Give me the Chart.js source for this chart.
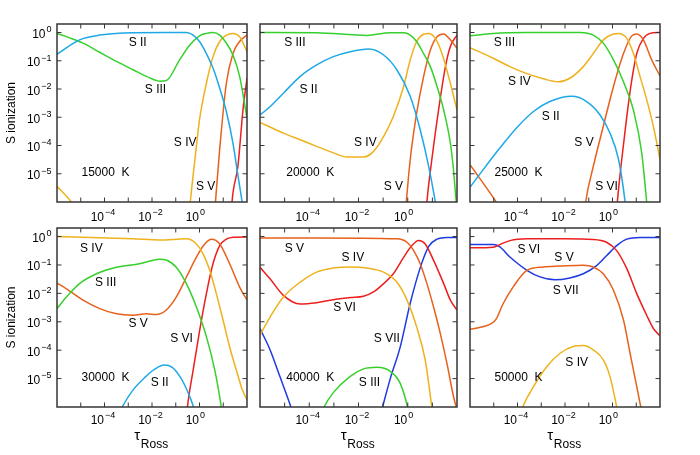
<!DOCTYPE html>
<html>
<head>
<meta charset="utf-8">
<script src="https://cdn.jsdelivr.net/npm/chart.js@4.4.0/dist/chart.umd.min.js"></script>
<style>
  body { margin: 0; background: #fff; width: 700px; height: 455px; position: relative; overflow: hidden; }
  canvas { position: absolute; }
</style>
</head>
<body>
<script>
// --- Data (tau_Ross, ionization fraction) ---
// 15000 K
const t15_II  = [1e-6, 8.9e-6, 6.3e-5, 1.6e-3, 4e-2, 0.28, 0.54, 1, 1.95, 3.7, 7.1, 13.5, 25.7, 40, 62, 89];
const v15_II  = [0.17, 0.55, 0.81, 0.99, 1.0, 1.0, 0.81, 0.48, 0.18, 0.055, 0.0107, 1.6e-3, 1.2e-4, 1.07e-5, 1e-6, 1e-7];
const t15_III = [1e-6, 3.2e-6, 1.26e-5, 6.3e-5, 3.2e-4, 1.6e-3, 5.8e-3, 2.1e-2, 4e-2, 0.145, 0.39, 1, 1.95, 3.7, 7.1, 13.5, 25.7, 49, 100];
const v15_III = [0.93, 0.66, 0.42, 0.2, 0.095, 0.048, 0.028, 0.019, 0.02, 0.107, 0.36, 0.76, 0.93, 1.0, 0.81, 0.42, 0.16, 0.028, 9.3e-4];
const t15_IV  = [1e-6, 4e-6, 7.6e-6, 1e-3, 0.33, 0.41, 0.74, 1, 1.95, 3.7, 7.1, 13.5, 25.7, 49, 100];
const v15_IV  = [3.6e-6, 1e-6, 4e-7, null, 1.3e-7, 1e-6, 9.3e-5, 8.1e-4, 0.016, 0.14, 0.48, 0.81, 0.93, 0.71, 0.21];
const t15_V   = [3.7, 4.7, 7.1, 13.5, 25.7, 49, 100];
const v15_V   = [8e-8, 1e-6, 7.6e-5, 0.016, 0.18, 0.48, 0.81];
const t15_VI  = [20, 23.4, 41.7, 67.6, 100];
const v15_VI  = [1e-7, 1e-6, 1.95e-5, 1.8e-3, 0.024];

// 20000 K
const t20_III = [1e-6, 2e-4, 2.2e-2, 0.195, 0.68, 1.26, 2.3, 4.4, 8.3, 15.5, 28.8, 53.7, 70.8, 93.3, 112];
const v20_III = [1.0, 0.98, 0.79, 0.98, 0.98, 0.81, 0.48, 0.18, 0.062, 0.0123, 1.8e-3, 1.23e-4, 1.6e-5, 1e-6, 2.5e-7];
const t20_II  = [1e-6, 2.6e-6, 8.9e-6, 4.3e-5, 2e-4, 9.5e-4, 4.6e-3, 2.6e-2, 0.105, 0.36, 1.26, 3.2, 7.1, 13.2, 17.8];
const v20_II  = [1.2e-3, 2.4e-3, 7.1e-3, 0.028, 0.071, 0.14, 0.21, 0.26, 0.16, 0.048, 5.5e-3, 3.6e-4, 1.8e-5, 1e-6, 2e-7];
const t20_IV  = [1e-6, 8.9e-6, 4.3e-5, 2e-4, 9.5e-4, 3.4e-3, 1.6e-2, 4.1e-2, 0.105, 0.26, 0.68, 1.26, 2.3, 4.4, 7.1, 13.2, 24.5, 53.7, 100];
const v20_IV  = [6.6e-4, 2.75e-4, 1.6e-4, 9.3e-5, 5.5e-5, 3.9e-5, 3.9e-5, 6.2e-5, 2.1e-4, 1.07e-3, 0.0123, 0.107, 0.48, 0.87, 0.93, 0.62, 0.18, 0.016, 1.8e-3];
const t20_V   = [0.63, 0.87, 1.26, 2.3, 4.4, 8.3, 15.5, 28.8, 53.7, 100];
const v20_V   = [5e-8, 1e-6, 3.2e-5, 1.4e-3, 0.0275, 0.24, 0.71, 0.89, 0.55, 0.275];
const t20_VI  = [4.8, 6.0, 9.5, 17.8, 33.9, 53.7, 100];
const v20_VI  = [6e-8, 1e-6, 3.2e-5, 1.8e-3, 0.062, 0.32, 0.81];

// 25000 K
const t25_III = [1e-6, 9.5e-6, 2.5e-4, 4.3e-2, 0.155, 0.41, 1.1, 2.9, 7.6, 17, 27.5, 35.5];
const v25_III = [0.76, 0.93, 1.0, 1.0, 0.81, 0.42, 0.107, 0.018, 1.8e-3, 5.5e-5, 1e-6, 1e-7];
const t25_IV  = [1e-6, 9.5e-6, 4.8e-5, 2.5e-4, 1.23e-3, 5.2e-3, 1.6e-2, 5.9e-2, 0.155, 0.41, 1.1, 1.8, 4, 7.6, 14.5, 27.5, 52.5, 100];
const v25_IV  = [0.29, 0.123, 0.062, 0.035, 0.023, 0.018, 0.024, 0.062, 0.18, 0.55, 0.89, 0.93, 0.62, 0.18, 0.0275, 4.2e-3, 4.8e-4, 3.2e-5];
const t25_II  = [1e-6, 3.6e-6, 1.8e-5, 9.1e-5, 4.7e-4, 2.3e-3, 1.9e-2, 8.1e-2, 0.295, 0.78, 1.8, 3.4, 4.5];
const v25_II  = [3.3e-6, 1.4e-5, 8.1e-5, 4.2e-4, 1.6e-3, 3.6e-3, 5.5e-3, 3.6e-3, 1.23e-3, 2.75e-4, 3.2e-5, 1e-6, 1e-7];
const t25_V   = [1e-6, 1.26e-5, 1.8e-5, 1e-3, 5e-2, 7.4e-2, 0.155, 0.41, 1.1, 2.9, 6.5, 10.5, 20, 44.7, 100];
const v25_V   = [2.1e-5, 1e-6, 6e-7, null, 5e-8, 1e-6, 1.8e-5, 4.8e-4, 0.0123, 0.18, 0.76, 0.89, 0.55, 0.107, 0.029];
const t25_VI  = [1.26, 1.6, 2.45, 4, 6.5, 10.5, 20, 38, 100];
const v25_VI  = [6e-8, 1e-6, 3.2e-5, 1.07e-3, 0.021, 0.18, 0.62, 0.93, 1.0];

// 30000 K
const t30_IV  = [1e-6, 1.6e-3, 2.1e-2, 0.28, 0.74, 1.41, 2.7, 5.1, 9.8, 18.6, 35.5, 63, 100];
const v30_IV  = [1.0, 0.83, 0.76, 0.83, 0.55, 0.245, 0.065, 9.8e-3, 1.15e-3, 1.3e-4, 2e-5, 4.1e-6, 1.8e-6];
const t30_III = [1e-6, 2.5e-6, 8.9e-6, 4.6e-5, 3.2e-4, 3e-3, 2.1e-2, 4e-2, 0.105, 0.28, 0.74, 1.95, 4.4, 8.3, 11.2];
const v30_III = [2.9e-3, 7.4e-3, 0.022, 0.049, 0.083, 0.11, 0.16, 0.15, 0.083, 0.022, 3.3e-3, 3e-4, 2e-5, 1e-6, 1.6e-7];
const t30_V   = [1e-6, 2.5e-6, 1.26e-5, 6.3e-5, 3.2e-4, 1.6e-3, 5.8e-3, 1.5e-2, 4e-2, 0.105, 0.28, 0.74, 1.66, 3.2, 7.1, 18.6, 49, 100];
const v30_V   = [0.023, 0.0145, 5.8e-3, 2.9e-3, 1.9e-3, 1.7e-3, 1.9e-3, 1.8e-3, 2.6e-3, 7.4e-3, 0.037, 0.19, 0.55, 0.81, 0.55, 0.11, 0.0166, 5.8e-3];
const t30_VI  = [0.224, 0.31, 0.54, 1.02, 1.95, 3.7, 7.1, 13.5, 25.7, 100];
const v30_VI  = [6e-8, 1e-6, 2e-5, 5.1e-4, 9.8e-3, 0.11, 0.48, 0.81, 0.95, 0.97];
const t30_II  = [3.2e-4, 5.5e-4, 1.6e-3, 5e-3, 1.26e-2, 3.2e-2, 7.1e-2, 0.158, 0.316, 0.56, 0.79];
const v30_II  = [4e-7, 1e-6, 4e-6, 1.1e-5, 2.1e-5, 3e-5, 2.5e-5, 1.1e-5, 3.5e-6, 1e-6, 3.2e-7];

// 40000 K
const t40_V   = [1e-6, 2e-4, 0.36, 0.93, 1.74, 3.2, 6, 11.2, 20.9, 38.9, 72.4, 100];
const v40_V   = [0.89, 0.89, 0.83, 0.63, 0.32, 0.11, 0.022, 3.3e-3, 3.9e-4, 3.5e-5, 2.3e-6, 8e-7];
const t40_VI  = [1e-6, 2.6e-6, 8.9e-6, 4.3e-5, 2e-4, 9.5e-4, 4.6e-3, 1.6e-2, 4.1e-2, 0.105, 0.26, 0.68, 1.48, 2.75, 5.1, 11.2, 28.8, 53.7, 100];
const v40_VI  = [0.083, 0.032, 8.5e-3, 4.2e-3, 4.7e-3, 6e-3, 7.1e-3, 7.9e-3, 0.0112, 0.022, 0.049, 0.186, 0.48, 0.72, 0.55, 0.145, 0.022, 5.8e-3, 2.6e-3];
const t40_IV  = [1e-6, 2.6e-6, 8.9e-6, 4.3e-5, 2e-4, 9.5e-4, 4.6e-3, 2.2e-2, 0.105, 0.36, 0.93, 2.3, 5.1, 9.5, 12.6];
const v40_IV  = [3.4e-4, 1.5e-3, 7.4e-3, 0.025, 0.056, 0.078, 0.085, 0.078, 0.056, 0.025, 5.8e-3, 6.6e-4, 4.6e-5, 1e-6, 1.6e-7];
const t40_VII = [1e-6, 2.6e-6, 6.5e-6, 1.8e-5, 2.5e-5, 1e-3, 6.3e-2, 9.5e-2, 0.195, 0.49, 1.26, 3.2, 7.1, 15.5, 38.9, 100];
const v40_VII = [5.8e-4, 1e-4, 1.15e-5, 1e-6, 4e-7, null, 2.5e-7, 1e-6, 1e-5, 1.26e-4, 4.5e-3, 0.079, 0.45, 0.81, 0.93, 0.93];
const t40_III = [2.5e-4, 4e-4, 9.5e-4, 4.6e-3, 1.6e-2, 5.6e-2, 0.195, 0.49, 0.98, 1.26];
const v40_III = [3.2e-7, 1e-6, 3.2e-6, 1.2e-5, 2.2e-5, 2.5e-5, 1.8e-5, 6.9e-6, 1e-6, 3.2e-7];

// 50000 K
const t50_VI  = [1e-6, 9.5e-6, 1.8e-5, 4.8e-5, 2.5e-4, 1e-2, 0.155, 0.56, 1.5, 4, 10.5, 27.5, 52.5, 100];
const v50_VI  = [0.4, 0.42, 0.52, 0.72, 0.83, 0.83, 0.79, 0.63, 0.32, 0.074, 9.8e-3, 1.7e-3, 5.8e-4, 3.2e-4];
const t50_VII = [1e-6, 9.5e-6, 1.8e-5, 4.8e-5, 2.5e-4, 8.9e-4, 3.8e-3, 1.6e-2, 5.9e-2, 0.214, 0.56, 1.5, 4, 14.5, 100];
const v50_VII = [0.52, 0.52, 0.43, 0.19, 0.065, 0.038, 0.03, 0.035, 0.049, 0.095, 0.21, 0.48, 0.81, 0.93, 0.93];
const t50_V   = [1e-6, 8.1e-6, 1.3e-5, 2.5e-5, 6.6e-5, 2.5e-4, 1.23e-3, 6.2e-3, 5.9e-2, 0.155, 0.41, 1.1, 2.9, 5.5, 10.5, 15.5, 22.4];
const v50_V   = [5.4e-4, 8.7e-4, 1.3e-3, 4.4e-3, 0.017, 0.065, 0.085, 0.091, 0.098, 0.085, 0.049, 0.0129, 1.15e-3, 7.8e-5, 5.2e-6, 1e-6, 2e-7];
const t50_IV  = [1.1e-4, 1.66e-4, 4.7e-4, 1.7e-3, 6.2e-3, 2.2e-2, 5.9e-2, 0.155, 0.41, 0.78, 1.5, 2];
const v50_IV  = [3.2e-7, 1e-6, 5.2e-6, 2.6e-5, 7.8e-5, 1.35e-4, 1.45e-4, 1.02e-4, 4.6e-5, 1.2e-5, 1e-6, 2.5e-7];

// Axis ticks
const xMinorTicks = [1e-5, 1e-4, 1e-3, 1e-2, 1e-1, 1, 10];
const xLabelTicks = [1e-4, 1e-2, 1];
const xLabelExps  = ['\u22124', '\u22122', '0'];
const yMinorTicks = [1e-5, 1e-4, 1e-3, 1e-2, 1e-1, 1];
const yLabelExps  = ['0', '\u22121', '\u22122', '\u22123', '\u22124', '\u22125'];

// Curve labels: [text, tau, value]
const lab15 = [['S II', 2.5e-3, 0.42], ['S III', 1.4e-2, 9.3e-3], ['S IV', 0.25, 1.23e-4], ['S V', 1.8, 3.6e-6]];
const lab20 = [['S III', 2.6e-5, 0.42], ['S II', 9.3e-5, 9.3e-3], ['S IV', 1.9e-2, 1.23e-4], ['S V', 0.26, 3.6e-6]];
const lab25 = [['S III', 2.8e-5, 0.42], ['S IV', 1.2e-4, 0.018], ['S II', 2.5e-3, 1.02e-3], ['S V', 6.3e-2, 1.23e-4], ['S VI', 0.56, 3.6e-6]];
const lab30 = [['S IV', 2.8e-5, 0.36], ['S III', 1.12e-4, 0.023], ['S V', 2.6e-3, 8.7e-4], ['S VI', 0.174, 2.6e-4], ['S II', 2.1e-2, 7.2e-6]];
const lab40 = [['S V', 2.5e-5, 0.36], ['S IV', 5.9e-3, 0.178], ['S VI', 2.7e-3, 3.2e-3], ['S VII', 0.141, 2.45e-4], ['S III', 2.8e-2, 6.9e-6]];
const lab50 = [['S VI', 3e-4, 0.35], ['S V', 9.1e-3, 0.178], ['S VII', 1.07e-2, 0.012], ['S IV', 3.1e-2, 3.5e-5]];
const tempPos = [1.1e-4, 1.1e-5];

const ionColors = { II: '#1ea8e6', III: '#36d02c', IV: '#eeb21c', V: '#e8601c', VI: '#ec1e1e', VII: '#1f3ae2' };
const FONT = '"Liberation Sans", Arial, Helvetica, sans-serif';
const PAD = { l: 57, t: 24, r: 8, b: 50 };

const panels = [
  { temp: '15000  K', labels: lab15, rect: { L: 57,  T: 24,  W: 190, H: 178 }, yAxis: true,  xTitle: false, xLab: 19,
    series: [['II', t15_II, v15_II], ['III', t15_III, v15_III], ['IV', t15_IV, v15_IV], ['V', t15_V, v15_V], ['VI', t15_VI, v15_VI]] },
  { temp: '20000  K', labels: lab20, rect: { L: 260, T: 24,  W: 197, H: 178 }, yAxis: false, xTitle: false, xLab: 19,
    series: [['II', t20_II, v20_II], ['III', t20_III, v20_III], ['IV', t20_IV, v20_IV], ['V', t20_V, v20_V], ['VI', t20_VI, v20_VI]] },
  { temp: '25000  K', labels: lab25, rect: { L: 470, T: 24,  W: 190, H: 178 }, yAxis: false, xTitle: false, xLab: 19,
    series: [['II', t25_II, v25_II], ['III', t25_III, v25_III], ['IV', t25_IV, v25_IV], ['V', t25_V, v25_V], ['VI', t25_VI, v25_VI]] },
  { temp: '30000  K', labels: lab30, rect: { L: 57,  T: 228, W: 190, H: 179 }, yAxis: true,  xTitle: true, xLab: 17,
    series: [['II', t30_II, v30_II], ['III', t30_III, v30_III], ['IV', t30_IV, v30_IV], ['V', t30_V, v30_V], ['VI', t30_VI, v30_VI]] },
  { temp: '40000  K', labels: lab40, rect: { L: 260, T: 228, W: 197, H: 179 }, yAxis: false, xTitle: true, xLab: 17,
    series: [['III', t40_III, v40_III], ['IV', t40_IV, v40_IV], ['V', t40_V, v40_V], ['VI', t40_VI, v40_VI], ['VII', t40_VII, v40_VII]] },
  { temp: '50000  K', labels: lab50, rect: { L: 470, T: 228, W: 190, H: 179 }, yAxis: false, xTitle: true, xLab: 17,
    series: [['IV', t50_IV, v50_IV], ['V', t50_V, v50_V], ['VI', t50_VI, v50_VI], ['VII', t50_VII, v50_VII]] }
];

// "10" with a superscript exponent; anchor is the right end of the base ("tick") or of the whole label ("right")
function drawPow(ctx, exp, x, baseY, mode) {
  ctx.font = '12px ' + FONT;
  const w1 = ctx.measureText('10').width;
  ctx.font = '9px ' + FONT;
  const w2 = ctx.measureText(exp).width;
  const x0 = mode === 'right' ? x - w1 - w2 - 1 : x - w1;
  ctx.textAlign = 'left';
  ctx.textBaseline = 'alphabetic';
  ctx.font = '12px ' + FONT;
  ctx.fillText('10', x0, baseY);
  ctx.font = '9px ' + FONT;
  ctx.fillText(exp, x0 + w1 + 1, baseY - 5.7);
}

const framePlugin = (p) => ({
  id: 'frame',
  afterDatasetsDraw(chart) {
    const { ctx, chartArea: a, scales: { x, y } } = chart;
    ctx.save();
    ctx.strokeStyle = '#363636';

    // inward ticks on all four sides
    ctx.lineWidth = 1;
    ctx.beginPath();
    xMinorTicks.forEach(v => {
      const px = x.getPixelForValue(v);
      ctx.moveTo(px, a.bottom); ctx.lineTo(px, a.bottom - 4.5);
      ctx.moveTo(px, a.top); ctx.lineTo(px, a.top + 4.5);
    });
    yMinorTicks.forEach(v => {
      const py = y.getPixelForValue(v);
      ctx.moveTo(a.left, py); ctx.lineTo(a.left + 4.5, py);
      ctx.moveTo(a.right, py); ctx.lineTo(a.right - 4.5, py);
    });
    ctx.stroke();

    ctx.lineWidth = 1.5;
    ctx.strokeRect(a.left, a.top, a.right - a.left, a.bottom - a.top);

    ctx.fillStyle = '#000';

    // x tick labels
    xLabelTicks.forEach((v, i) => {
      drawPow(ctx, xLabelExps[i], x.getPixelForValue(v) - 0.5, a.bottom + p.xLab, 'tick');
    });

    // y tick labels + title
    if (p.yAxis) {
      yMinorTicks.slice().reverse().forEach((v, i) => {
        const py = y.getPixelForValue(v);
        drawPow(ctx, yLabelExps[i], a.left - 5.5, py + 5.5, 'right');
      });
      ctx.save();
      ctx.translate(a.left - 45, (a.top + a.bottom) / 2);
      ctx.rotate(-Math.PI / 2);
      ctx.font = '12px ' + FONT;
      ctx.textAlign = 'center';
      ctx.textBaseline = 'middle';
      ctx.fillText('S ionization', 0, 0);
      ctx.restore();
    }

    // x title: tau_Ross
    if (p.xTitle) {
      ctx.textAlign = 'left';
      ctx.textBaseline = 'alphabetic';
      ctx.font = '15px ' + FONT;
      const wt = ctx.measureText('\u03c4').width;
      ctx.font = '12px ' + FONT;
      const wr = ctx.measureText('Ross').width;
      const x0 = (a.left + a.right) / 2 - (wt + wr) / 2 - 1;
      ctx.font = '15px ' + FONT;
      ctx.fillText('\u03c4', x0, a.bottom + 33);
      ctx.font = '12px ' + FONT;
      ctx.fillText('Ross', x0 + wt + 0.5, a.bottom + 41);
    }

    // curve labels and temperature
    ctx.font = '12px ' + FONT;
    ctx.textAlign = 'center';
    ctx.textBaseline = 'middle';
    p.labels.forEach(([txt, t, v]) => {
      ctx.fillText(txt, x.getPixelForValue(t), y.getPixelForValue(v));
    });
    ctx.fillText(p.temp, x.getPixelForValue(tempPos[0]), y.getPixelForValue(tempPos[1]));

    ctx.restore();
  }
});

panels.forEach(p => {
  const c = document.createElement('canvas');
  c.width = p.rect.W + PAD.l + PAD.r;
  c.height = p.rect.H + PAD.t + PAD.b;
  c.style.left = (p.rect.L - PAD.l) + 'px';
  c.style.top = (p.rect.T - PAD.t) + 'px';
  document.body.appendChild(c);

  new Chart(c, {
    type: 'line',
    data: {
      datasets: p.series.map(([ion, tau, val]) => ({
        label: 'S ' + ion,
        data: tau.map((t, i) => ({ x: t, y: val[i] })),
        borderColor: ionColors[ion],
        borderWidth: 1.5,
        pointRadius: 0,
        fill: false,
        spanGaps: false,
        cubicInterpolationMode: 'monotone'
      }))
    },
    options: {
      responsive: false,
      animation: false,
      events: [],
      layout: { padding: { left: PAD.l, top: PAD.t, right: PAD.r, bottom: PAD.b } },
      plugins: { legend: { display: false }, tooltip: { enabled: false } },
      elements: { line: { capBezierPoints: false } },
      scales: {
        x: { type: 'logarithmic', min: 1e-6, max: 100, display: false },
        y: { type: 'logarithmic', min: 1e-6, max: 2, display: false }
      }
    },
    plugins: [framePlugin(p)]
  });
});
</script>
</body>
</html>
